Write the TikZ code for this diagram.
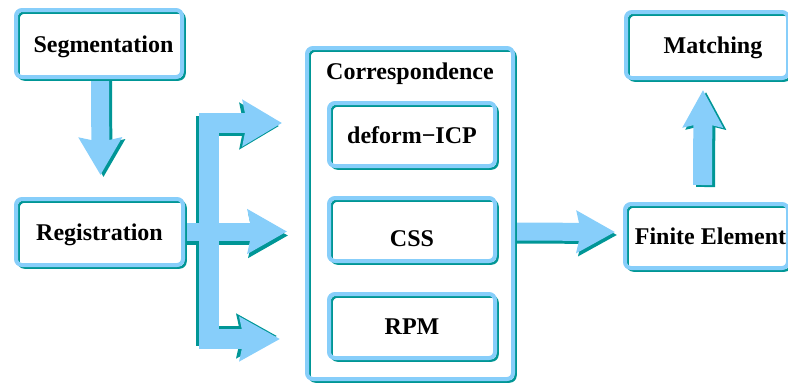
\documentclass[tikz,border=0pt]{standalone}
\usepackage{fontspec}
\setmainfont{Liberation Serif}
\usetikzlibrary{arrows.meta,backgrounds}
\definecolor{skyfill}{RGB}{135,206,250}
\definecolor{tealshade}{RGB}{0,150,150}
\tikzset{
  panel/.style={draw=skyfill, line width=4pt, rounded corners=6pt,
    inner sep=0pt, text height=17pt, text depth=0pt,
    font=\fontsize{24}{28}\selectfont\bfseries,
    preaction={fill=white},
    preaction={draw=tealshade, line width=2.5pt,
      transform canvas={shift={(2.5pt,-2.5pt)}}}},
  fat/.style n args={3}{line width=#1, line join=miter,
    -{Stealth[length=#2 0 0, width=#3 0 0, inset=4pt 0 0]}},
  blueflow/.style={color=skyfill},
  shadowflow/.style={color=tealshade, transform canvas={shift={#1}}},
  caption/.style={inner sep=0pt, font=\fontsize{24}{28}\selectfont\bfseries}
}
\begin{document}
\begin{tikzpicture}[x=1pt, y=-1pt]
\useasboundingbox (0,0) rectangle (788,384);
\clip (0,0) rectangle (788,384);

% processing stages
\node[panel, minimum width=166pt, minimum height=67pt] (seg) at (99,43.5) {\hspace*{9pt}Segmentation};
\node[panel, minimum width=167pt, minimum height=66pt] (reg) at (99.5,232) {Registration};
\node[panel, minimum width=206pt, minimum height=331pt] (corr) at (410,213.5) {};
\node[caption] (corrlabel) at (410,74) {Correspondence};
\node[panel, minimum width=166pt, minimum height=63pt] (icp) at (412,134.5) {deform−ICP};
\node[panel, minimum width=166pt, minimum height=63pt] (css) at (412,229.5) {\raisebox{-8pt}[0pt][0pt]{CSS}};
\node[panel, minimum width=166pt, minimum height=64pt] (rpm) at (412,326) {RPM};
\node[panel, minimum width=163pt, minimum height=64pt] (fe) at (706.5,236) {\hspace*{8pt}Finite Element};
\node[panel, minimum width=162pt, minimum height=66pt] (match) at (707,45) {\hspace*{12pt}Matching};

% end points of the fork towards the methods
\coordinate (fork) at (209,232);
\coordinate (tipicp) at (282,123);
\coordinate (tipcss) at (287,231.5);
\coordinate (tiprpm) at (280,339);
\coordinate (corrout) at (513,231.5);
\coordinate (tipfe) at (615,232);

\begin{scope}[on background layer]
  % shadows
  \draw[fat={18pt}{37pt}{42pt}, shadowflow={(3pt,-2pt)}]
    ([xshift=1pt]seg.south) -- ([xshift=1pt,yshift=22pt]reg.north);
  \draw[fat={20pt}{39pt}{45pt}, shadowflow={(-3pt,-3pt)}] (fork) |- (tipicp);
  \draw[fat={20pt}{40pt}{43pt}, shadowflow={(-3pt,3pt)}] (fork) |- (tiprpm);
  \draw[fat={18pt}{39pt}{43pt}, shadowflow={(1pt,-4pt)}] (reg.east |- tipcss) -- (tipcss);
  \draw[fat={18pt}{38pt}{41pt}, shadowflow={(2pt,-3pt)}] (corrout) -- (tipfe);
  \draw[fat={19pt}{37pt}{39pt}, shadowflow={(3pt,-2pt)}]
    ([xshift=-4pt,yshift=17pt]fe.north) -- ([xshift=-4pt,yshift=-10pt]match.south);
  % flows
  \draw[fat={18pt}{37pt}{42pt}, blueflow]
    ([xshift=1pt]seg.south) -- ([xshift=1pt,yshift=22pt]reg.north);
  \draw[fat={20pt}{39pt}{45pt}, blueflow] (fork) |- (tipicp);
  \draw[fat={20pt}{40pt}{43pt}, blueflow] (fork) |- (tiprpm);
  \draw[fat={18pt}{39pt}{43pt}, blueflow] (reg.east |- tipcss) -- (tipcss);
  \draw[fat={18pt}{38pt}{41pt}, blueflow] (corrout) -- (tipfe);
  \draw[fat={19pt}{37pt}{39pt}, blueflow]
    ([xshift=-4pt,yshift=17pt]fe.north) -- ([xshift=-4pt,yshift=-10pt]match.south);
\end{scope}
\end{tikzpicture}
\end{document}
